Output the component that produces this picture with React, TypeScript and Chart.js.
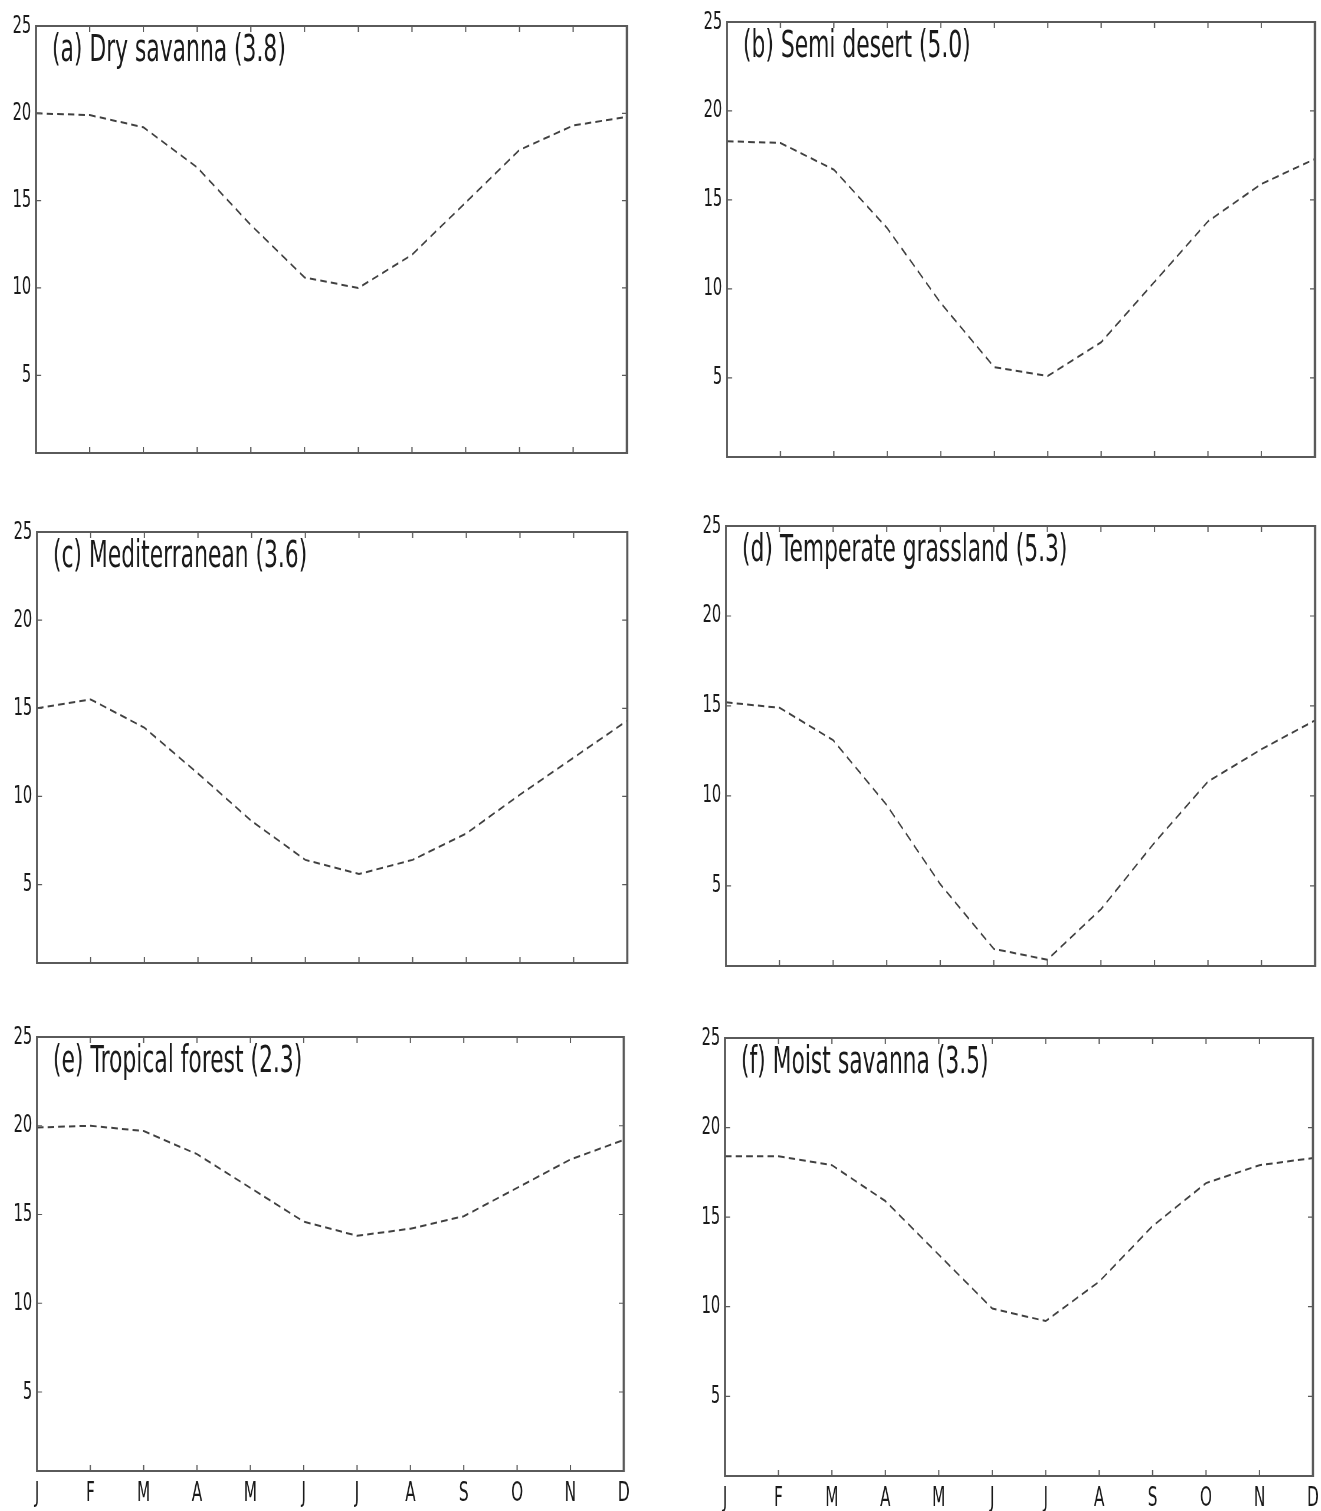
import React, { useEffect, useRef } from "react";
import { Chart, registerables } from "chart.js";

Chart.register(...registerables);

const months = ["J", "F", "M", "A", "M", "J", "J", "A", "S", "O", "N", "D"];
const yTickValues = [5, 10, 15, 20, 25];
const yMin = 0.55;
const yMax = 25;

const drySavanna = [20.0, 19.9, 19.2, 16.9, 13.6, 10.6, 10.0, 11.9, 14.9, 17.9, 19.3, 19.8];
const semiDesert = [18.3, 18.2, 16.7, 13.4, 9.2, 5.6, 5.1, 7.0, 10.4, 13.8, 15.9, 17.3];
const mediterranean = [15.0, 15.5, 13.9, 11.3, 8.6, 6.4, 5.6, 6.4, 7.9, 10.1, 12.2, 14.3];
const temperateGrassland = [15.2, 14.9, 13.1, 9.5, 5.1, 1.5, 0.9, 3.7, 7.4, 10.8, 12.6, 14.2];
const tropicalForest = [19.9, 20.0, 19.7, 18.4, 16.5, 14.6, 13.8, 14.2, 14.9, 16.5, 18.1, 19.2];
const moistSavanna = [18.4, 18.4, 17.9, 15.9, 12.9, 9.9, 9.2, 11.4, 14.5, 16.9, 17.9, 18.3];

const titles = [
  "(a) Dry savanna (3.8)",
  "(b) Semi desert (5.0)",
  "(c) Mediterranean (3.6)",
  "(d) Temperate grassland (5.3)",
  "(e) Tropical forest (2.3)",
  "(f) Moist savanna (3.5)",
];
const seriesList = [drySavanna, semiDesert, mediterranean, temperateGrassland, tropicalForest, moistSavanna];

// horizontal squeeze of the whole figure (text looks condensed)
const S = 0.59;

// plot-area boxes on the page: [left, top, right, bottom]
const boxes = [
  [36, 26, 627, 453],
  [727, 22, 1315, 457],
  [37, 532, 627, 963],
  [726, 526, 1315, 966],
  [37, 1037, 624, 1471],
  [725, 1038, 1313, 1476],
];

const PAD_L = 46;
const PAD_T = 20;
const PAD_R = 8;

const FONT = "DejaVu Sans";

function Panel({ idx }: { idx: number }) {
  const ref = useRef<HTMLCanvasElement | null>(null);
  const [L, T, R, B] = boxes[idx];
  const bottomRow = idx >= 4;
  const padB = bottomRow ? 40 : 20;
  const wc = Math.round((R - L + PAD_L + PAD_R) / S);
  const hc = B - T + PAD_T + padB;

  useEffect(() => {
    if (!ref.current) return;
    const framePlugin = {
      id: "frame" + idx,
      afterDraw(chart: any) {
        const { ctx, chartArea: a } = chart;
        const xs = chart.scales.x;
        const ys = chart.scales.y;
        ctx.save();
        ctx.strokeStyle = "#5a5a5a";
        // ticks (inward)
        ctx.lineWidth = 1.2 / S;
        for (let i = 0; i < months.length; i++) {
          const px = xs.getPixelForValue(i);
          ctx.beginPath();
          ctx.moveTo(px, a.bottom);
          ctx.lineTo(px, a.bottom - 6);
          ctx.moveTo(px, a.top);
          ctx.lineTo(px, a.top + 6);
          ctx.stroke();
        }
        ctx.lineWidth = 1.2;
        for (const v of yTickValues) {
          const py = ys.getPixelForValue(v);
          ctx.beginPath();
          ctx.moveTo(a.left, py);
          ctx.lineTo(a.left + 5 / S, py);
          ctx.moveTo(a.right, py);
          ctx.lineTo(a.right - 5 / S, py);
          ctx.stroke();
        }
        // frame
        ctx.lineWidth = 2.2;
        ctx.beginPath();
        ctx.moveTo(a.left, a.top);
        ctx.lineTo(a.right, a.top);
        ctx.moveTo(a.left, a.bottom);
        ctx.lineTo(a.right, a.bottom);
        ctx.stroke();
        ctx.lineWidth = 2.2 / S;
        ctx.beginPath();
        ctx.moveTo(a.left, a.top - 1.1);
        ctx.lineTo(a.left, a.bottom + 1.1);
        ctx.moveTo(a.right, a.top - 1.1);
        ctx.lineTo(a.right, a.bottom + 1.1);
        ctx.stroke();
        // panel label
        ctx.fillStyle = "#1a1a1a";
        ctx.font = `37px "${FONT}"`;
        ctx.textAlign = "left";
        ctx.textBaseline = "alphabetic";
        ctx.fillText(titles[idx], a.left + 16 / S, a.top + 35);
        ctx.restore();
      },
    };

    const chart = new Chart(ref.current, {
      type: "line",
      data: {
        labels: months,
        datasets: [
          {
            data: seriesList[idx],
            borderColor: "#404040",
            borderWidth: 2,
            borderDash: [11, 7],
            pointRadius: 0,
            tension: 0,
            fill: false,
          },
        ],
      },
      options: {
        animation: false,
        responsive: false,
        maintainAspectRatio: false,
        layout: { padding: { top: PAD_T, right: PAD_R / S, left: 0, bottom: 0 } },
        plugins: { legend: { display: false }, tooltip: { enabled: false }, title: { display: false } },
        scales: {
          x: {
            type: "category",
            offset: false,
            grid: { display: false, drawTicks: false },
            border: { display: false },
            ticks: {
              display: bottomRow,
              autoSkip: false,
              maxRotation: 0,
              minRotation: 0,
              padding: 8,
              color: "#1a1a1a",
              font: { family: FONT, size: 26 },
            },
            afterFit: (scale: any) => {
              scale.height = padB;
              scale.paddingLeft = 0;
              scale.paddingRight = 0;
            },
          },
          y: {
            type: "linear",
            min: yMin,
            max: yMax,
            grid: { display: false, drawTicks: false },
            border: { display: false },
            afterBuildTicks: (scale: any) => {
              scale.ticks = yTickValues.map((value) => ({ value }));
            },
            ticks: {
              padding: 8,
              color: "#1a1a1a",
              font: { family: FONT, size: 25 },
            },
            afterFit: (scale: any) => {
              scale.width = PAD_L / S;
              scale.paddingTop = 0;
              scale.paddingBottom = 0;
            },
          },
        },
      },
      plugins: [framePlugin],
    });
    return () => chart.destroy();
  }, [idx]);

  return (
    <div
      style={{
        position: "absolute",
        left: L - PAD_L,
        top: T - PAD_T,
        width: wc,
        height: hc,
        transform: `scaleX(${S})`,
        transformOrigin: "0 0",
      }}
    >
      <canvas ref={ref} width={wc} height={hc} style={{ display: "block" }} />
    </div>
  );
}

export default function App() {
  return (
    <div
      style={{
        position: "absolute",
        left: 0,
        top: 0,
        width: 1321,
        height: 1511,
        background: "#ffffff",
        overflow: "hidden",
      }}
    >
      {titles.map((_, i) => (
        <Panel key={i} idx={i} />
      ))}
    </div>
  );
}
